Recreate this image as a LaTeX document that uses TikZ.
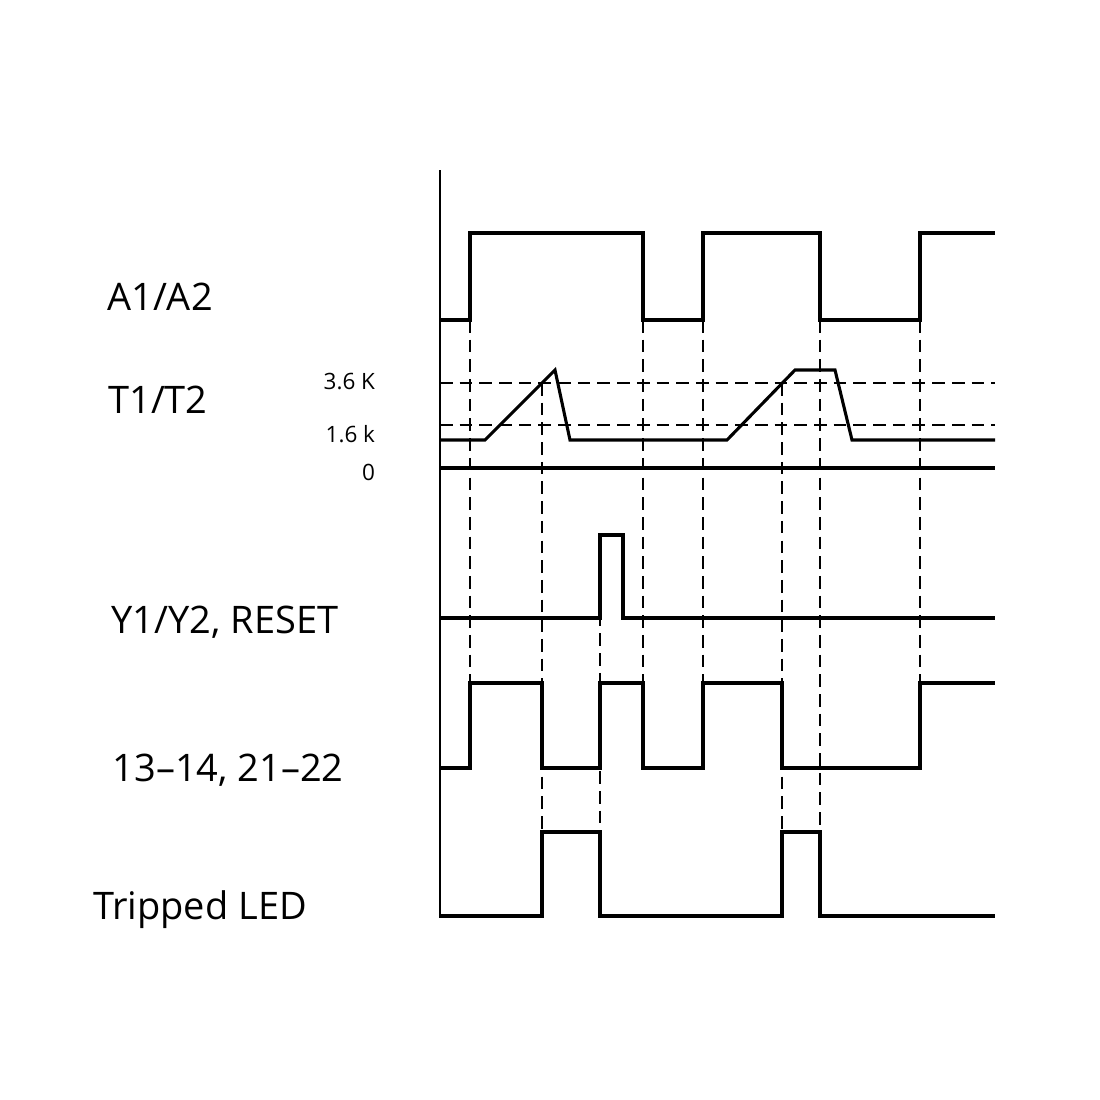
\documentclass[tikz,border=0pt]{standalone}
\usepackage{fontspec}
\setmainfont{Open Sans}
\begin{document}
\begin{tikzpicture}[x=0.025cm, y=-0.025cm,
    wave/.style = {line width=2.2pt, line join=miter},
    guide/.style = {line width=0.9pt, dash pattern=on 9pt off 5pt},
    big/.style = {font=\fontsize{27}{30}\selectfont},
    small/.style = {font=\fontsize{16}{18}\selectfont, anchor=east}]
    \useasboundingbox (0,0) rectangle (1100,1100);
    % Labels
    \node[big] (a) at (160,297) {A1/A2};
    \node[big] (t) at (158,400) {T1/T2};
    \node[small] (k36) at (380,382) {3.6 K};
    \node[small] (k16) at (380,434) {1.6 k};
    \node[small] (k0) at (380,472) {0};
    \node[big] (y) at (225,622) {Y1/Y2, RESET};
    \node[big] (c) at (228,770) {13--14, 21--22};
    \node[big] (l) at (200,910) {Tripped LED};
    % Guides
    \draw[guide] (440,383) -- (995,383);
    \draw[guide] (440,425) -- (995,425);
    \foreach \x/\ya/\yb in {470/320/768, 542/383/832, 600/535/916, 643/320/768,
                            703/320/683, 782/383/832, 820/320/832, 920/320/683}
      \draw[guide] (\x,\ya) -- (\x,\yb);
    % Axis
    \draw[line width=1.6pt] (440,170) -- (440,918);
    % Waves
    \draw[wave] (440,320) -- (470,320) -- (470,233) -- (643,233) -- (643,320) -- (703,320)
      -- (703,233) -- (820,233) -- (820,320) -- (920,320) -- (920,233) -- (995,233);
    \draw[wave] (440,468) -- (995,468);
    \draw[wave] (440,440) -- (485,440) -- (555,370) -- (570,440) -- (727,440) -- (795,370)
      -- (835,370) -- (852,440) -- (995,440);
    \draw[wave] (440,618) -- (600,618) -- (600,535) -- (623,535) -- (623,618) -- (995,618);
    \draw[wave] (440,768) -- (470,768) -- (470,683) -- (542,683) -- (542,768) -- (600,768)
      -- (600,683) -- (643,683) -- (643,768) -- (703,768) -- (703,683) -- (782,683)
      -- (782,768) -- (920,768) -- (920,683) -- (995,683);
    \draw[wave] (440,916) -- (542,916) -- (542,832) -- (600,832) -- (600,916) -- (782,916)
      -- (782,832) -- (820,832) -- (820,916) -- (995,916);
\end{tikzpicture}
\end{document}
